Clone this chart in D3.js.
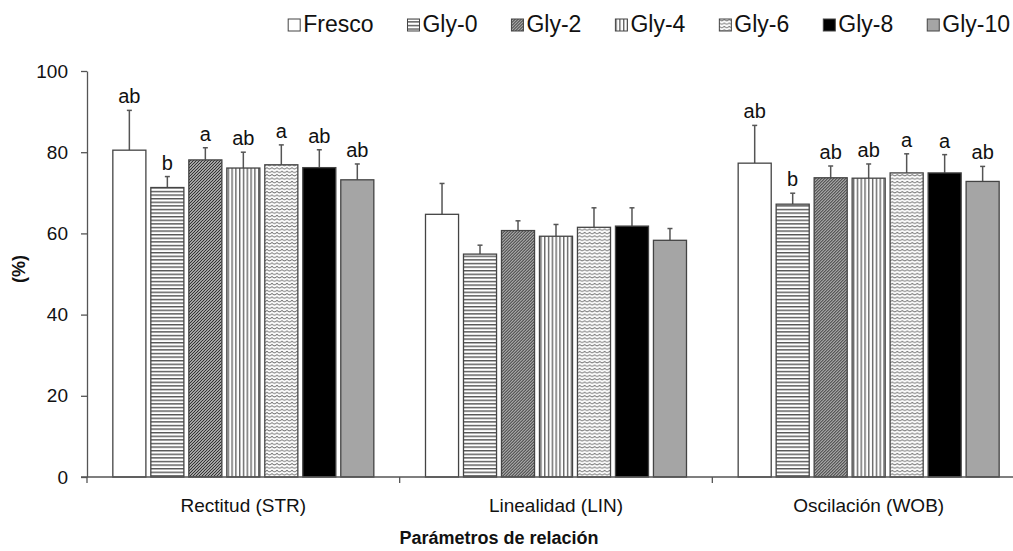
<!DOCTYPE html>
<html><head><meta charset="utf-8">
<script src="https://cdn.jsdelivr.net/npm/d3@7"></script>
<style>
body{margin:0;background:#fff;}
text{font-family:"Liberation Sans",Arial,sans-serif;fill:#111;}
</style></head>
<body>
<svg id="c" width="1013" height="551"></svg>
<script>
const categories = ["Rectitud (STR)", "Linealidad (LIN)", "Oscilación (WOB)"];
const series = ["Fresco", "Gly-0", "Gly-2", "Gly-4", "Gly-6", "Gly-8", "Gly-10"];
const strValues = [80.5, 71.3, 78.1, 76.1, 76.9, 76.2, 73.2];
const strErrors = [9.8, 2.7, 3.0, 3.9, 4.9, 4.4, 3.9];
const strLetters = ["ab", "b", "a", "ab", "a", "ab", "ab"];
const linValues = [64.7, 54.9, 60.7, 59.3, 61.5, 61.8, 58.3];
const linErrors = [7.6, 2.2, 2.4, 2.9, 4.8, 4.5, 2.9];
const linLetters = ["", "", "", "", "", "", ""];
const wobValues = [77.3, 67.2, 73.7, 73.6, 74.9, 74.9, 72.8];
const wobErrors = [9.3, 2.7, 2.9, 3.5, 4.7, 4.5, 3.7];
const wobLetters = ["ab", "b", "ab", "ab", "a", "a", "ab"];
const yTicks = [0, 20, 40, 60, 80, 100];
const yLabel = "(%)";
const xLabel = "Parámetros de relación";

const rows = [
  {cat: categories[0], values: strValues, errors: strErrors, letters: strLetters},
  {cat: categories[1], values: linValues, errors: linErrors, letters: linLetters},
  {cat: categories[2], values: wobValues, errors: wobErrors, letters: wobLetters}
];

const svg = d3.select("#c");
const defs = svg.append("defs");
const AX = "#555";

function pat(id, w, h, bg, draw) {
  const p = defs.append("pattern").attr("id", id).attr("patternUnits", "userSpaceOnUse")
    .attr("width", w).attr("height", h);
  p.append("rect").attr("width", w).attr("height", h).attr("fill", bg);
  draw(p);
}
pat("p-h", 8, 3.6, "#fff", p => p.append("rect").attr("x", 0).attr("y", 0).attr("width", 8).attr("height", 1.4).attr("fill", "#555"));
pat("p-d", 3, 3, "#fff", p => p.append("path").attr("d", "M-1,1 L1,-1 M0,3 L3,0 M2,4 L4,2").attr("stroke", "#333").attr("stroke-width", 1.3));
pat("p-v", 3.8, 8, "#fff", p => p.append("rect").attr("x", 0).attr("y", 0).attr("width", 1.4).attr("height", 8).attr("fill", "#666"));
pat("p-w", 5, 3.4, "#fff", p => p.append("path").attr("d", "M0,0.9 Q1.25,2.7 2.5,2.5 Q3.75,2.3 5,0.9").attr("fill", "none").attr("stroke", "#777").attr("stroke-width", 1.1));

const fills = {
  "Fresco": "#fff", "Gly-0": "url(#p-h)", "Gly-2": "url(#p-d)", "Gly-4": "url(#p-v)",
  "Gly-6": "url(#p-w)", "Gly-8": "#000", "Gly-10": "#a5a5a5"
};

const x0 = d3.scaleBand().domain(categories).range([87, 1025]).paddingInner(0).paddingOuter(0);
const x1 = d3.scaleBand().domain(series).range([0, x0.bandwidth()]).paddingInner(0.13).paddingOuter(0.68);
const y = d3.scaleLinear().domain([0, 100]).range([477, 71]);

rows.forEach(r => {
  const g = svg.append("g").attr("transform", `translate(${x0(r.cat)},0)`);
  series.forEach((s, i) => {
    const v = r.values[i], e = r.errors[i];
    const bx = x1(s), bw = x1.bandwidth(), cx = bx + bw / 2;
    g.append("line").attr("x1", cx).attr("x2", cx).attr("y1", y(v)).attr("y2", y(v + e))
      .attr("stroke", AX).attr("stroke-width", 1.5);
    g.append("line").attr("x1", cx - 2.5).attr("x2", cx + 2.5).attr("y1", y(v + e)).attr("y2", y(v + e))
      .attr("stroke", AX).attr("stroke-width", 1.5);
    g.append("rect").attr("x", bx).attr("y", y(v)).attr("width", bw).attr("height", y(0) - y(v))
      .attr("fill", fills[s]).attr("stroke", "#444").attr("stroke-width", 1.3);
    if (r.letters[i]) {
      g.append("text").attr("x", cx).attr("y", y(v + e) - 7).attr("text-anchor", "middle")
        .attr("font-size", 20).text(r.letters[i]);
    }
  });
});

const ya = svg.append("g").attr("transform", "translate(87,0)")
  .call(d3.axisLeft(y).tickValues(yTicks).tickSize(6).tickPadding(13).tickSizeOuter(0));
ya.selectAll("path,line").attr("stroke", AX).attr("stroke-width", 1.3);
ya.selectAll("text").attr("font-size", 19).attr("font-family", "Liberation Sans, Arial, sans-serif").attr("fill", "#111");

const xa = svg.append("g").attr("transform", "translate(0,477)");
xa.append("line").attr("x1", 81).attr("x2", 1013).attr("y1", 0).attr("y2", 0).attr("stroke", AX).attr("stroke-width", 1.3);
categories.forEach(c => {
  xa.append("line").attr("x1", x0(c)).attr("x2", x0(c)).attr("y1", 0).attr("y2", 6).attr("stroke", AX).attr("stroke-width", 1.3);
  xa.append("text").attr("x", x0(c) + x0.bandwidth() / 2).attr("y", 35).attr("text-anchor", "middle")
    .attr("font-size", 19).text(c);
});

svg.append("text").attr("transform", "translate(25,269) rotate(-90)").attr("text-anchor", "middle")
  .attr("font-size", 18).attr("font-weight", "bold").text(yLabel);
svg.append("text").attr("x", 499).attr("y", 544).attr("text-anchor", "middle")
  .attr("font-size", 18).attr("font-weight", "bold").text(xLabel);

const GAP = 34;
const lg = svg.append("g");
let lx = 0;
series.forEach(s => {
  const it = lg.append("g").attr("transform", `translate(${lx},0)`);
  it.append("rect").attr("x", 0).attr("y", -13).attr("width", 12).attr("height", 12)
    .attr("fill", fills[s]).attr("stroke", "#444").attr("stroke-width", 1);
  const t = it.append("text").attr("x", 15).attr("y", 0).attr("font-size", 23).text(s);
  lx += 15 + t.node().getComputedTextLength() + GAP;
});
const totalW = lx - GAP;
lg.attr("transform", `translate(${1010 - totalW},32)`);
</script>
</body></html>
